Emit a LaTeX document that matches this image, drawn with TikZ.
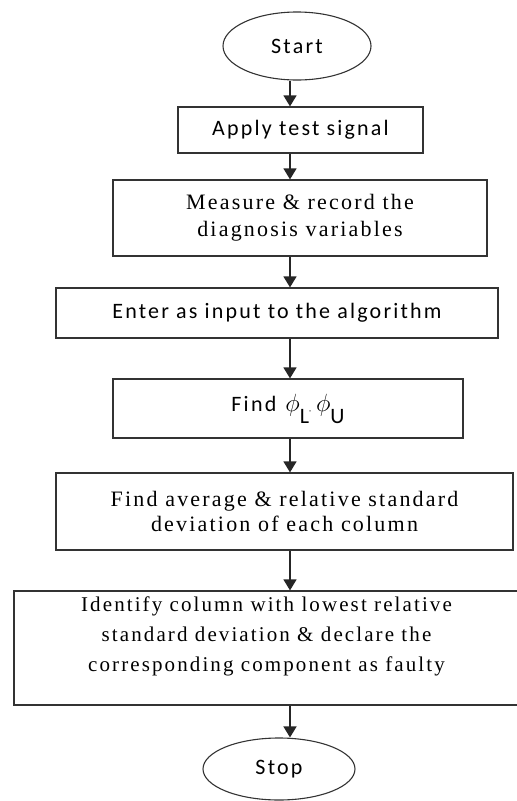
\documentclass[tikz,border=0pt]{standalone}
\usepackage{fontspec}
\setmainfont{Liberation Serif}
\newfontfamily\calib{Carlito}[LetterSpace=10]
\newfontfamily\timesw{Liberation Serif}[LetterSpace=10]
\usepackage{tikz}
\usetikzlibrary{shapes.geometric,arrows.meta}
\tikzset{
    terminal/.style={draw=black!80,line width=1.1pt,ellipse,inner sep=0pt,font=\calib\fontsize{22}{26}\selectfont},
    process/.style={draw=black!80,line width=1.2pt,rectangle,inner sep=0pt,align=center},
    flow/.style={-{Triangle[width=13pt,length=11pt]},line width=1.4pt,draw=black!85}
}
\newcommand{\bigphi}{{\fontsize{30}{30}\selectfont$\phi$}}

\begin{document}
\begin{tikzpicture}[x=1pt,y=-1pt]
\useasboundingbox (0,0) rectangle (517,801);
\coordinate (spine) at (290,0);

\node[terminal,minimum width=148pt,minimum height=68pt](start) at (297,46){Start};
\node[process,minimum width=245pt,minimum height=46pt,font=\calib\fontsize{22}{26}\selectfont](apply) at (300.5,130){Apply test signal};
\node[process,minimum width=374pt,minimum height=76pt,font=\timesw\fontsize{22}{27}\selectfont](measure) at (300,218){Measure \& record the\\diagnosis variables};
\node[process,minimum width=442pt,minimum height=50pt,font=\calib\fontsize{22}{26}\selectfont](enter) at (277,313){Enter as input to the algorithm};
\node[process,minimum width=350pt,minimum height=59pt,font=\calib\fontsize{22}{26}\selectfont](findphi) at (288,408.5){Find\hspace{9pt}\bigphi\raisebox{-12pt}{L}{\fontsize{8}{8}\selectfont,}\hspace{5pt}\bigphi\raisebox{-12pt}{U}};
\node[process,minimum width=457pt,minimum height=77pt,font=\timesw\fontsize{22}{25}\selectfont](average) at (284.5,511.5){Find average \& relative standard\\deviation of each column};
\node[process,minimum width=505pt,minimum height=114pt,text depth=27pt,font=\timesw\fontsize{21}{30}\selectfont](identify) at (266.5,648){Identify column with lowest relative\\standard deviation \& declare the\\corresponding component as faulty};
\node[terminal,minimum width=152pt,minimum height=62pt](stop) at (279,769){Stop};

% flow down the spine
\draw[flow](start.south -| spine)--(apply.north -| spine);
\draw[flow](apply.south -| spine)--(measure.north -| spine);
\draw[flow](measure.south -| spine)--(enter.north -| spine);
\draw[flow](enter.south -| spine)--(findphi.north -| spine);
\draw[flow](findphi.south -| spine)--(average.north -| spine);
\draw[flow](average.south -| spine)--(identify.north -| spine);
\draw[flow](identify.south -| spine)--(stop.north -| spine);
\end{tikzpicture}
\end{document}
